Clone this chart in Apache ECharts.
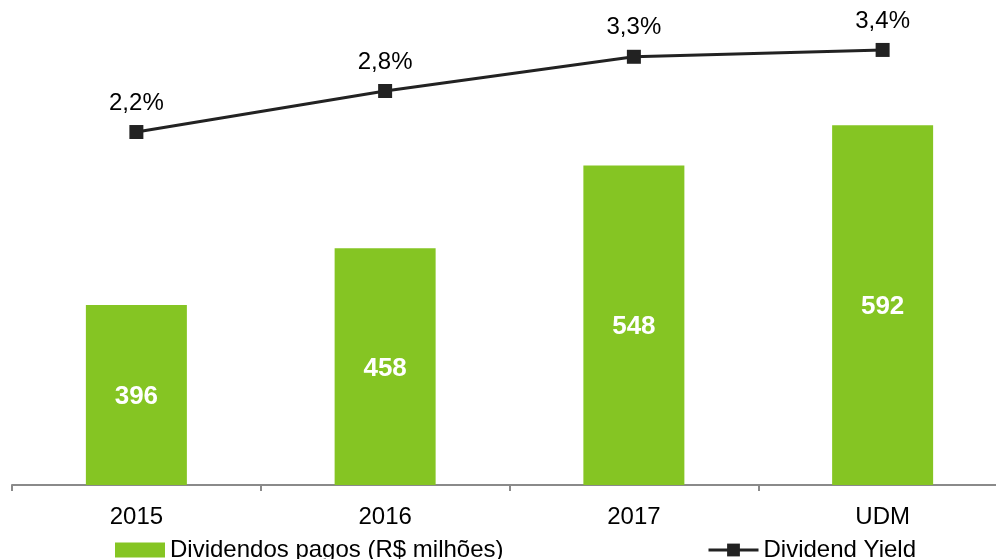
<!DOCTYPE html>
<html>
<head>
<meta charset="utf-8">
<script src="https://cdn.jsdelivr.net/npm/echarts@6/dist/echarts.min.js"></script>
<style>
  html, body { margin: 0; padding: 0; background: #fff; }
  #main { width: 996px; height: 559px; }
</style>
</head>
<body>
<div id="main"></div>
<script>
// dados
const categorias = ['2015', '2016', '2017', 'UDM']
const dividendos = [396, 458, 548, 592]
const dividendYield = [2.2, 2.8, 3.3, 3.4]

const fonte = '"Liberation Sans", Arial, sans-serif'

const chart = echarts.init(document.getElementById('main'))
chart.setOption({
  animation: false,
  textStyle: { fontFamily: fonte },
  grid: {
    left: 12,
    width: 995,
    top: 26,
    bottom: 74,
    outerBoundsMode: 'none'
  },
  // duas legendas separadas para ficarem nas posições do original
  legend: [
    {
      data: [{ name: 'Dividendos pagos (R$ milhões)', icon: 'rect' }],
      left: 115,
      top: 538,
      padding: 0,
      itemWidth: 50,
      itemHeight: 15,
      itemGap: 5,
      textStyle: { fontSize: 24, color: '#000', fontFamily: fonte }
    },
    {
      data: ['Dividend Yield'],
      left: 707,
      top: 538,
      padding: 0,
      itemWidth: 50,
      itemHeight: 16,
      lineStyle: { width: 3, color: '#222' },
      textStyle: { fontSize: 24, color: '#000', fontFamily: fonte }
    }
  ],
  xAxis: {
    type: 'category',
    data: categorias,
    axisLine: { onZero: false, lineStyle: { color: '#8a8a8a', width: 2 } },
    axisTick: { show: true, length: 6, lineStyle: { color: '#8a8a8a', width: 2 } },
    axisLabel: { fontSize: 24, color: '#000', margin: 20, fontFamily: fonte }
  },
  yAxis: [
    {
      type: 'value',
      min: 200,
      max: 700,
      show: false,
      splitLine: { show: false }
    },
    {
      type: 'value',
      min: -2.96,
      max: 3.75,
      show: false,
      splitLine: { show: false }
    }
  ],
  series: [
    {
      name: 'Dividendos pagos (R$ milhões)',
      type: 'bar',
      data: dividendos,
      barWidth: 101,
      itemStyle: { color: '#85c523' },
      label: {
        show: true,
        position: 'inside',
        offset: [0, 2],
        color: '#fff',
        fontWeight: 'bold',
        fontSize: 26,
        fontFamily: fonte
      }
    },
    {
      name: 'Dividend Yield',
      type: 'line',
      yAxisIndex: 1,
      data: dividendYield,
      symbol: 'rect',
      symbolSize: 14,
      lineStyle: { color: '#222', width: 3 },
      itemStyle: { color: '#222' },
      label: {
        show: true,
        position: 'top',
        distance: 10,
        fontSize: 24,
        color: '#000',
        fontFamily: fonte,
        formatter: p => p.value.toFixed(1).replace('.', ',') + '%'
      }
    }
  ]
})
</script>
</body>
</html>
